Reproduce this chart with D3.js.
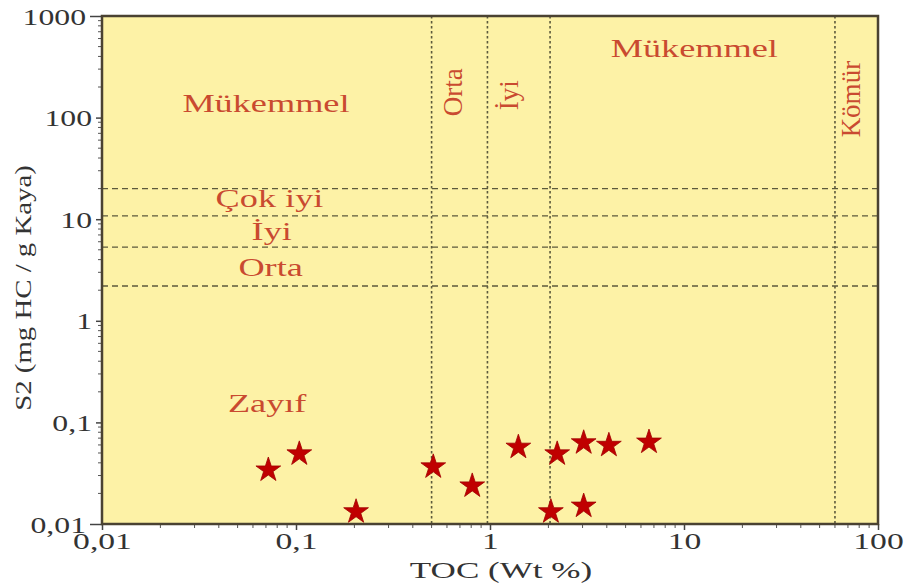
<!DOCTYPE html>
<html>
<head>
<meta charset="utf-8">
<script src="https://cdn.jsdelivr.net/npm/d3@7"></script>
<style>
  body { margin: 0; background: #fff; }
</style>
</head>
<body>
<div id="chart"></div>
<script>
// Veriler: TOC (Wt %) ve S2 (mg HC / g Kaya)
const toc = [0.072, 0.104, 0.204, 0.51, 0.81, 1.40, 2.22, 2.06, 3.04, 3.04, 4.1, 6.6];
const s2  = [0.034, 0.049, 0.0132, 0.0365, 0.0237, 0.057, 0.049, 0.0132, 0.063, 0.015, 0.0595, 0.064];

// Sınır çizgileri
const tocLimits = [0.5, 0.97, 2.04, 60];
const s2Limits = [20, 10.8, 5.3, 2.2];

// Eksen etiketleri
const xTicks = [0.01, 0.1, 1, 10, 100];
const xTickLabels = ['0,01', '0,1', '1', '10', '100'];
const yTicks = [0.01, 0.1, 1, 10, 100, 1000];
const yTickLabels = ['0,01', '0,1', '1', '10', '100', '1000'];

// Bölge yazıları
const zoneNames = ['Mükemmel', 'Çok iyi', 'İyi', 'Orta', 'Zayıf', 'Orta', 'İyi', 'Mükemmel', 'Kömür'];
const zoneX = [0.07, 0.073, 0.075, 0.074, 0.071, 0.64, 1.25, 11.3, 72];
const zoneY = [139, 16.2, 7.6, 3.4, 0.155, 178, 166, 484, 152];
const zoneRot = [false, false, false, false, false, true, true, false, true];

const W = 906, H = 587;
const margin = { top: 16, right: 28, bottom: 63, left: 102 };
const width = W - margin.left - margin.right;
const height = H - margin.top - margin.bottom;
const serif = '"Liberation Serif", "Times New Roman", "DejaVu Serif", serif';

// yazıyı yatayda genişlet (orijinal görüntü yatay gerilmiş)
function stretch(sel, k) {
  sel.each(function() {
    const len = this.getComputedTextLength();
    d3.select(this).attr('textLength', len * k).attr('lengthAdjust', 'spacingAndGlyphs');
  });
}

const svg = d3.select('#chart').append('svg')
  .attr('width', W).attr('height', H);
const g = svg.append('g').attr('transform', `translate(${margin.left},${margin.top})`);

const x = d3.scaleLog().domain([0.01, 100]).range([0, width]);
const y = d3.scaleLog().domain([0.01, 1000]).range([height, 0]);

const textColor = '#c94a30';
const lineColor = '#5c5a3c';

// Arka plan
g.append('rect')
  .attr('width', width).attr('height', height)
  .attr('fill', '#fdf2a6');

// Küçük tikler
const minor = [];
for (let e = -2; e < 3; e++) for (let k = 2; k < 10; k++) minor.push(k * Math.pow(10, e));
g.append('g').selectAll('line').data(minor.filter(v => v < 1000))
  .join('line')
  .attr('x1', -4).attr('x2', 0)
  .attr('y1', d => y(d)).attr('y2', d => y(d))
  .attr('stroke', '#555').attr('stroke-width', 1);
g.append('g').selectAll('line').data(minor.filter(v => v < 100))
  .join('line')
  .attr('x1', d => x(d)).attr('x2', d => x(d))
  .attr('y1', height).attr('y2', height + 4)
  .attr('stroke', '#555').attr('stroke-width', 1);

// Eksenler
const xAxis = d3.axisBottom(x).tickValues(xTicks)
  .tickFormat((d, i) => xTickLabels[i]).tickSize(6);
const yAxis = d3.axisLeft(y).tickValues(yTicks)
  .tickFormat((d, i) => yTickLabels[i]).tickSize(6).tickPadding(6);

const gx = g.append('g').attr('transform', `translate(0,${height})`).call(xAxis);
const gy = g.append('g').call(yAxis);
[gx, gy].forEach(a => {
  a.select('.domain').remove();
  a.selectAll('line').attr('stroke', '#444').attr('stroke-width', 1.5);
  a.selectAll('text')
    .attr('fill', '#333')
    .attr('font-family', serif);
});
// uç tikler daha uzun
gy.selectAll('.tick line').attr('x2', d => (d === 1000 || d === 0.01) ? -12 : -6);
gy.selectAll('.tick text').attr('x', d => (d === 1000 || d === 0.01) ? -16 : -10);
gx.selectAll('.tick text').attr('font-size', 24).attr('y', 25).attr('dy', 0);
gy.selectAll('.tick text').attr('font-size', 23).attr('dy', '0.35em');
stretch(gx.selectAll('.tick text'), 1.4);
stretch(gy.selectAll('.tick text'), 1.38);

// Sınır çizgileri
g.append('g').selectAll('line').data(s2Limits)
  .join('line')
  .attr('x1', 0).attr('x2', width)
  .attr('y1', d => y(d)).attr('y2', d => y(d))
  .attr('stroke', lineColor).attr('stroke-width', 1.3)
  .attr('stroke-dasharray', '6,4');

g.append('g').selectAll('line').data(tocLimits)
  .join('line')
  .attr('x1', d => x(d)).attr('x2', d => x(d))
  .attr('y1', 0).attr('y2', height)
  .attr('stroke', lineColor).attr('stroke-width', 1.6)
  .attr('stroke-dasharray', '2.5,2.5');

// Çerçeve
g.append('rect')
  .attr('width', width).attr('height', height)
  .attr('fill', 'none').attr('stroke', '#4a4232').attr('stroke-width', 2.5);

// Bölge yazıları
const zones = g.append('g').selectAll('text').data(zoneNames)
  .join('text')
  .attr('transform', (d, i) => `translate(${x(zoneX[i])},${y(zoneY[i])})` + (zoneRot[i] ? ' rotate(-90)' : ''))
  .attr('text-anchor', 'middle')
  .attr('dy', '0.35em')
  .attr('fill', textColor)
  .attr('font-family', serif)
  .attr('font-size', (d, i) => zoneRot[i] ? 27 : 25)
  .text(d => d);
stretch(zones.filter((d, i) => !zoneRot[i]), 1.45);

// Yıldızlar
const star = d3.symbol().type(d3.symbolStar).size(190);
g.append('g').selectAll('path').data(toc)
  .join('path')
  .attr('transform', (d, i) => `translate(${x(d)},${y(s2[i])})`)
  .attr('d', star)
  .attr('fill', '#c00000')
  .attr('stroke', '#a00000')
  .attr('stroke-width', 0.8);

// Eksen başlıkları
const xTitle = svg.append('text')
  .attr('x', 501)
  .attr('y', 578)
  .attr('text-anchor', 'middle')
  .attr('fill', '#333')
  .attr('font-family', serif)
  .attr('font-size', 24)
  .text('TOC (Wt %)');
stretch(xTitle, 1.46);

const yTitle = svg.append('text')
  .attr('transform', 'translate(31,288) rotate(-90)')
  .attr('text-anchor', 'middle')
  .attr('fill', '#333')
  .attr('font-family', serif)
  .attr('font-size', 24)
  .text('S2 (mg HC / g Kaya)');
stretch(yTitle, 1.2);
</script>
</body>
</html>
